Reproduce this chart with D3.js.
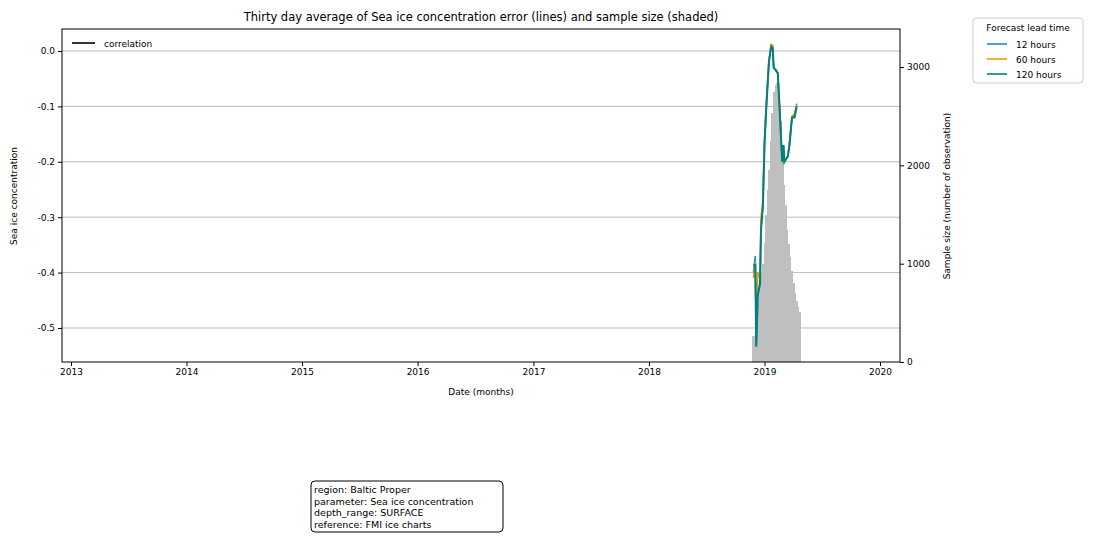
<!DOCTYPE html>
<html><head><meta charset="utf-8">
<script src="https://cdn.jsdelivr.net/npm/d3@7"></script>
<style>body{margin:0;background:#fff;font-family:"DejaVu Sans",sans-serif}</style>
</head><body><svg id="c" width="1094" height="540"></svg>
<script>
const sampleDates=["2018-11-24","2018-11-29","2018-12-04","2018-12-09","2018-12-14","2018-12-19","2018-12-24","2018-12-29","2019-01-03","2019-01-08","2019-01-13","2019-01-18","2019-01-23","2019-01-28","2019-02-02","2019-02-07","2019-02-12","2019-02-17","2019-02-22","2019-02-27","2019-03-04","2019-03-09","2019-03-14","2019-03-19","2019-03-24","2019-03-29","2019-04-03","2019-04-08","2019-04-13","2019-04-18"];
const sampleCounts=[265,265,420,600,810,900,1000,1210,1500,1750,1950,2250,2530,2750,2820,2840,2600,2450,2050,1800,1600,1340,1200,1070,930,800,700,620,560,510];
const lineDates=["2018-11-27","2018-12-03","2018-12-06","2018-12-11","2018-12-18","2018-12-21","2018-12-27","2019-01-01","2019-01-06","2019-01-15","2019-01-22","2019-01-27","2019-01-30","2019-02-05","2019-02-12","2019-02-17","2019-02-23","2019-02-26","2019-03-02","2019-03-05","2019-03-16","2019-03-21","2019-03-29","2019-04-06","2019-04-13"];
const err12=[-0.40,-0.37,-0.53,-0.44,-0.42,-0.32,-0.28,-0.17,-0.11,-0.02,0.01,0.01,-0.03,-0.034,-0.04,-0.094,-0.166,-0.20,-0.17,-0.20,-0.19,-0.17,-0.12,-0.115,-0.095];
const err60=[-0.41,-0.38,-0.52,-0.40,-0.41,-0.30,-0.27,-0.16,-0.10,-0.02,0.012,0.01,-0.03,-0.033,-0.04,-0.092,-0.165,-0.195,-0.17,-0.20,-0.19,-0.165,-0.118,-0.113,-0.097];
const err120=[-0.386,-0.386,-0.534,-0.44,-0.42,-0.323,-0.28,-0.17,-0.11,-0.02,0.008,0.005,-0.03,-0.034,-0.04,-0.094,-0.166,-0.20,-0.17,-0.20,-0.19,-0.17,-0.12,-0.12,-0.10];
const seriesNames=["12 hours","60 hours","120 hours"];
const colors=["#1e88e5","#e69f00","#008080"];
const yTicks=[0.0,-0.1,-0.2,-0.3,-0.4,-0.5];
const y2Ticks=[0,1000,2000,3000];
const years=[2013,2014,2015,2016,2017,2018,2019,2020];

const svg=d3.select("#c");
const L=62,R=900,T=29,B=362;
const p=d3.timeParse("%Y-%m-%d");
const span=new Date(2020,0,1)-new Date(2013,0,1);
const x=d3.scaleTime().domain([new Date(new Date(2013,0,1).getTime()-9/809*span), new Date(new Date(2020,0,1).getTime()+20/809*span)]).range([L,R]);
const y=d3.scaleLinear().domain([-0.5614,0.0397]).range([B,T]);
const y2=d3.scaleLinear().domain([0,3387]).range([B,T]);

svg.append("g").selectAll("line").data(yTicks).join("line").attr("x1",L).attr("x2",R).attr("y1",d=>y(d)).attr("y2",d=>y(d)).attr("stroke","#bcbcbc").attr("stroke-width",1);
const sd=sampleDates.map(p);
svg.append("g").attr("shape-rendering","crispEdges").selectAll("rect").data(sampleCounts).join("rect")
 .attr("x",(d,i)=>x(sd[i])).attr("width",(d,i)=>x(i<sd.length-1?sd[i+1]:d3.timeDay.offset(sd[i],4))-x(sd[i])+1)
 .attr("y",d=>y2(d)).attr("height",d=>B-y2(d)).attr("fill","#bfbfbf");
const ld=lineDates.map(p);
[err12,err60,err120].forEach((s,k)=>{
 svg.append("path").datum(s).attr("fill","none").attr("stroke",colors[k]).attr("stroke-width",k==2?2:1.6)
  .attr("d",d3.line().x((d,i)=>x(ld[i])).y(d=>y(d)));
});
svg.append("rect").attr("x",L).attr("y",T).attr("width",R-L).attr("height",B-T).attr("fill","none").attr("stroke","#000");
const fs="9px";
const ax=svg.append("g").attr("transform",`translate(0,${B})`).call(d3.axisBottom(x).tickValues(years.map(v=>new Date(v,0,1))).tickFormat(d3.timeFormat("%Y")).tickSize(4));
const ay=svg.append("g").attr("transform",`translate(${L},0)`).call(d3.axisLeft(y).tickValues(yTicks).tickFormat(d=>d3.format(".1f")(d).replace("−","-")).tickSize(4));
const ay2=svg.append("g").attr("transform",`translate(${R},0)`).call(d3.axisRight(y2).tickValues(y2Ticks).tickFormat(d3.format("d")).tickSize(4));
[ax,ay,ay2].forEach(a=>{a.select(".domain").remove();a.selectAll("text").attr("font-size",fs).attr("font-family","DejaVu Sans").attr("fill","#000");});
const t=(xx,yy,s,sz,anchor,rot)=>{const e=svg.append("text").attr("x",xx).attr("y",yy).attr("font-size",sz).attr("text-anchor",anchor||"middle").text(s);if(rot)e.attr("transform",`rotate(-90,${xx},${yy})`);return e;};
t(481,21,"Thirty day average of Sea ice concentration error (lines) and sample size (shaded)","11.5px");
t(481,395,"Date (months)",fs);
t(17,196,"Sea ice concentration",fs,"middle",true);
t(950,196,"Sample size (number of observation)",fs,"middle",true);
svg.append("line").attr("x1",72).attr("x2",95).attr("y1",43).attr("y2",43).attr("stroke","#000").attr("stroke-width",1.6);
t(104,47,"correlation",fs,"start");
svg.append("rect").attr("x",973).attr("y",18).attr("width",110).attr("height",65).attr("rx",3).attr("fill","#fff").attr("stroke","#ccc");
t(1028,31,"Forecast lead time",fs);
seriesNames.forEach((n,i)=>{const yy=44+i*15;svg.append("line").attr("x1",987).attr("x2",1007).attr("y1",yy).attr("y2",yy).attr("stroke",colors[i]).attr("stroke-width",1.6);t(1016,yy+4,n,fs,"start");});
svg.append("rect").attr("x",311).attr("y",481).attr("width",192).attr("height",51).attr("rx",4).attr("fill","#fff").attr("stroke","#000");
["region: Baltic Proper","parameter: Sea ice concentration","depth_range: SURFACE","reference: FMI ice charts"].forEach((s,i)=>t(314,493+i*11.5,s,"9.5px","start"));
</script></body></html>
